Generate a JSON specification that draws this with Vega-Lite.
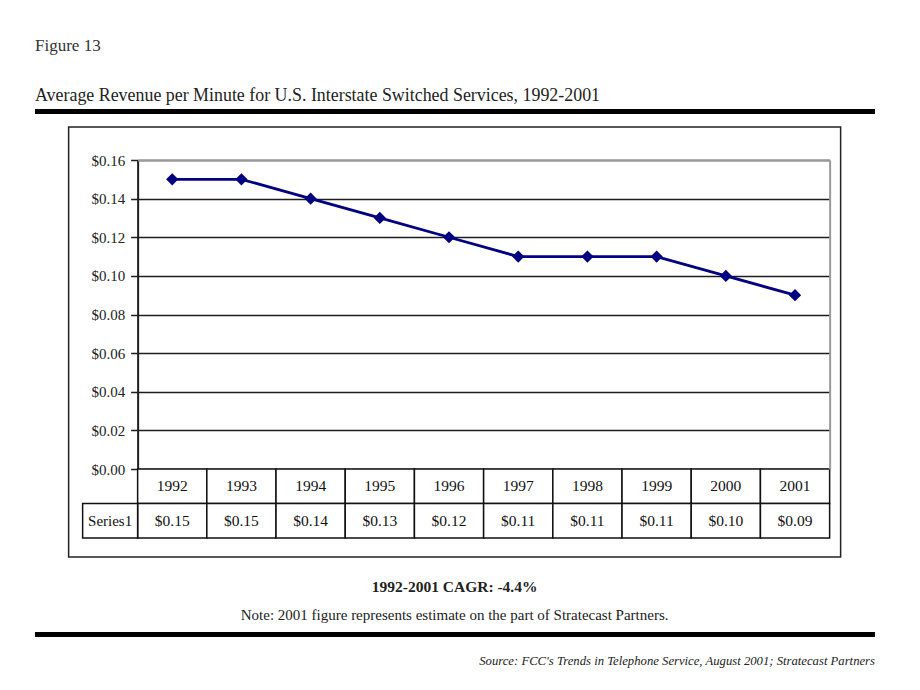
{
  "$schema": "https://vega.github.io/schema/vega-lite/v6.json",
  "padding": {"left": 35, "top": 36, "right": 5, "bottom": 5},
  "background": "white",
  "spacing": 9,
  "center": true,
  "config": {
    "view": {"stroke": null},
    "font": "Liberation Serif",
    "title": {"font": "Liberation Serif", "subtitleFont": "Liberation Serif", "color": "#222", "subtitleColor": "#222"}
  },
  "datasets": {
    "rev": [
      {"year": 1992, "value": 0.15},
      {"year": 1993, "value": 0.15},
      {"year": 1994, "value": 0.14},
      {"year": 1995, "value": 0.13},
      {"year": 1996, "value": 0.12},
      {"year": 1997, "value": 0.11},
      {"year": 1998, "value": 0.11},
      {"year": 1999, "value": 0.11},
      {"year": 2000, "value": 0.10},
      {"year": 2001, "value": 0.09}
    ],
    "series": [{"series": "Series1"}]
  },
  "vconcat": [
    {
      "width": 840,
      "height": 5,
      "view": {"fill": "black", "stroke": null},
      "title": {
        "text": "Figure 13",
        "subtitle": "Average Revenue per Minute for U.S. Interstate Switched Services, 1992-2001",
        "anchor": "start",
        "orient": "top",
        "fontSize": 17,
        "fontWeight": "normal",
        "color": "#333",
        "subtitleFontSize": 17.9,
        "subtitlePadding": 32,
        "offset": 0
      },
      "data": {"name": "series"},
      "mark": {"type": "text", "opacity": 0},
      "encoding": {"text": {"field": "series", "type": "nominal"}}
    },
    {
      "spacing": 4,
      "center": true,
      "vconcat": [
        {
          "width": 772,
          "height": 430,
          "view": {"stroke": "#222", "strokeWidth": 1.5, "fill": "white"},
          "title": {
            "text": "1992-2001 CAGR: -4.4%",
            "subtitle": "Note: 2001 figure represents estimate on the part of Stratecast Partners.",
            "orient": "bottom",
            "anchor": "middle",
            "fontSize": 15.5,
            "fontWeight": "bold",
            "subtitleFontSize": 15,
            "subtitlePadding": 12,
            "offset": 23
          },
          "data": {"name": "rev"},
          "resolve": {"scale": {"x": "independent", "y": "independent"}},
          "layer": [
            {
              "mark": {"type": "line", "color": "#000080", "strokeWidth": 2.8},
              "encoding": {
                "x": {
                  "field": "year",
                  "type": "ordinal",
                  "scale": {"type": "band", "domain": [1992, 1993, 1994, 1995, 1996, 1997, 1998, 1999, 2000, 2001], "range": [69, 761], "paddingInner": 0, "paddingOuter": 0},
                  "axis": {
                    "orient": "top",
                    "offset": -33,
                    "zindex": 1,
                    "title": null,
                    "labels": false,
                    "ticks": false,
                    "grid": false,
                    "domainColor": "#9a9a9a",
                    "domainWidth": 2
                  }
                },
                "y": {
                  "field": "value",
                  "type": "quantitative",
                  "scale": {"domain": [0, 0.16], "range": [342, 33], "nice": false},
                  "axis": {
                    "orient": "left",
                    "offset": -69,
                    "title": null,
                    "values": [0, 0.02, 0.04, 0.06, 0.08, 0.1, 0.12, 0.14, 0.16],
                    "format": "$.2f",
                    "grid": true,
                    "gridColor": "#1e1e1e",
                    "gridWidth": 1.4,
                    "domainColor": "#1e1e1e",
                    "domainWidth": 2,
                    "tickColor": "#1e1e1e",
                    "tickSize": 7,
                    "tickWidth": 1.5,
                    "labelFont": "Liberation Serif",
                    "labelFontSize": 15,
                    "labelColor": "#222",
                    "labelPadding": 6
                  }
                }
              }
            },
            {
              "mark": {"type": "point", "shape": "diamond", "filled": true, "size": 150, "color": "#000080", "opacity": 1},
              "encoding": {
                "x": {
                  "field": "year",
                  "type": "ordinal",
                  "scale": {"type": "band", "domain": [1992, 1993, 1994, 1995, 1996, 1997, 1998, 1999, 2000, 2001], "range": [69, 761], "paddingInner": 0, "paddingOuter": 0},
                  "axis": null
                },
                "y": {
                  "field": "value",
                  "type": "quantitative",
                  "scale": {"domain": [0, 0.16], "range": [342, 33], "nice": false},
                  "axis": {
                    "orient": "right",
                    "offset": -11,
                    "zindex": 1,
                    "title": null,
                    "labels": false,
                    "ticks": false,
                    "grid": false,
                    "domainColor": "#9a9a9a",
                    "domainWidth": 2
                  }
                }
              }
            },
            {
              "mark": {"type": "rect", "fill": "white", "stroke": "#111", "strokeWidth": 1.5},
              "encoding": {
                "x": {
                  "field": "year",
                  "type": "ordinal",
                  "scale": {"type": "band", "domain": [1992, 1993, 1994, 1995, 1996, 1997, 1998, 1999, 2000, 2001], "range": [69, 761], "paddingInner": 0, "paddingOuter": 0},
                  "axis": null
                },
                "y": {
                  "datum": "Year",
                  "type": "nominal",
                  "scale": {"type": "band", "domain": ["Year", "Series1"], "range": [342, 411], "paddingInner": 0, "paddingOuter": 0},
                  "axis": null
                }
              }
            },
            {
              "mark": {"type": "rect", "fill": "white", "stroke": "#111", "strokeWidth": 1.5},
              "encoding": {
                "x": {
                  "field": "year",
                  "type": "ordinal",
                  "scale": {"type": "band", "domain": [1992, 1993, 1994, 1995, 1996, 1997, 1998, 1999, 2000, 2001], "range": [69, 761], "paddingInner": 0, "paddingOuter": 0},
                  "axis": null
                },
                "y": {
                  "datum": "Series1",
                  "type": "nominal",
                  "scale": {"type": "band", "domain": ["Year", "Series1"], "range": [342, 411], "paddingInner": 0, "paddingOuter": 0},
                  "axis": null
                }
              }
            },
            {
              "mark": {"type": "text", "font": "Liberation Serif", "fontSize": 15.5, "color": "#111", "baseline": "middle"},
              "encoding": {
                "x": {
                  "field": "year",
                  "type": "ordinal",
                  "scale": {"type": "band", "domain": [1992, 1993, 1994, 1995, 1996, 1997, 1998, 1999, 2000, 2001], "range": [69, 761], "paddingInner": 0, "paddingOuter": 0},
                  "axis": null
                },
                "y": {
                  "datum": "Year",
                  "type": "nominal",
                  "scale": {"type": "band", "domain": ["Year", "Series1"], "range": [342, 411], "paddingInner": 0, "paddingOuter": 0},
                  "axis": null
                },
                "text": {"field": "year", "type": "ordinal"}
              }
            },
            {
              "mark": {"type": "text", "font": "Liberation Serif", "fontSize": 15.5, "color": "#111", "baseline": "middle"},
              "encoding": {
                "x": {
                  "field": "year",
                  "type": "ordinal",
                  "scale": {"type": "band", "domain": [1992, 1993, 1994, 1995, 1996, 1997, 1998, 1999, 2000, 2001], "range": [69, 761], "paddingInner": 0, "paddingOuter": 0},
                  "axis": null
                },
                "y": {
                  "datum": "Series1",
                  "type": "nominal",
                  "scale": {"type": "band", "domain": ["Year", "Series1"], "range": [342, 411], "paddingInner": 0, "paddingOuter": 0},
                  "axis": null
                },
                "text": {"field": "value", "type": "quantitative", "format": "$.2f"}
              }
            },
            {
              "data": {"name": "series"},
              "mark": {"type": "rect", "fill": "white", "stroke": "#111", "strokeWidth": 1.5},
              "encoding": {
                "x": {
                  "field": "series",
                  "type": "nominal",
                  "scale": {"type": "band", "domain": ["Series1"], "range": [14, 69], "paddingInner": 0, "paddingOuter": 0},
                  "axis": null
                },
                "y": {
                  "field": "series",
                  "type": "nominal",
                  "scale": {"type": "band", "domain": ["Year", "Series1"], "range": [342, 411], "paddingInner": 0, "paddingOuter": 0},
                  "axis": null
                }
              }
            },
            {
              "data": {"name": "series"},
              "mark": {"type": "text", "font": "Liberation Serif", "fontSize": 15, "color": "#111", "baseline": "middle"},
              "encoding": {
                "x": {
                  "field": "series",
                  "type": "nominal",
                  "scale": {"type": "band", "domain": ["Series1"], "range": [14, 69], "paddingInner": 0, "paddingOuter": 0},
                  "axis": null
                },
                "y": {
                  "field": "series",
                  "type": "nominal",
                  "scale": {"type": "band", "domain": ["Year", "Series1"], "range": [342, 411], "paddingInner": 0, "paddingOuter": 0},
                  "axis": null
                },
                "text": {"field": "series", "type": "nominal"}
              }
            }
          ]
        },
        {
          "width": 840,
          "height": 5,
          "view": {"fill": "black", "stroke": null},
          "title": {
            "text": "Source: FCC's Trends in Telephone Service, August 2001; Stratecast Partners",
            "orient": "bottom",
            "anchor": "end",
            "fontSize": 12.7,
            "fontWeight": "normal",
            "fontStyle": "italic",
            "offset": 15
          },
          "data": {"name": "series"},
          "mark": {"type": "text", "opacity": 0},
          "encoding": {"text": {"field": "series", "type": "nominal"}}
        }
      ]
    }
  ]
}
